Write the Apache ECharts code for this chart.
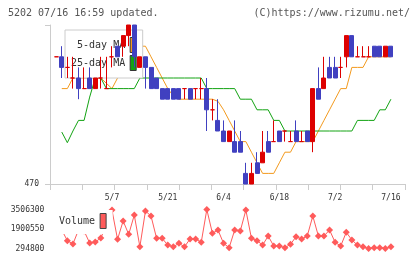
<!DOCTYPE html>
<html>
<head>
<meta charset="utf-8">
<script src="https://cdn.jsdelivr.net/npm/echarts@6/dist/echarts.min.js"></script>
<style>
  html, body { margin: 0; padding: 0; background: #fff; }
  #chart { width: 420px; height: 259px; }
</style>
</head>
<body>
<div id="chart"></div>
<script>
var dates = [
  '4/19', '4/20', '4/21', '4/22', '4/23', '4/26', '4/27', '4/28', '4/30',
  '5/6', '5/7', '5/10', '5/11', '5/12', '5/13', '5/14', '5/17', '5/18', '5/19', '5/20', '5/21',
  '5/24', '5/25', '5/26', '5/27', '5/28', '5/31',
  '6/1', '6/2', '6/3', '6/4', '6/7', '6/8', '6/9', '6/10', '6/11', '6/14', '6/15', '6/16', '6/17', '6/18',
  '6/21', '6/22', '6/23', '6/24', '6/25', '6/28', '6/29', '6/30',
  '7/1', '7/2', '7/5', '7/6', '7/7', '7/8', '7/9', '7/12', '7/13', '7/14', '7/15', '7/16'
]
var open = [
  482, 482, 481, 480, 480, 479, 480, 479, 480, 479,
  482, 483, 483, 484, 485, 481, 482, 481, 480, 479,
  479, 479, 479, 479, 479, 479, 479, 479, 477, 476,
  475, 474, 474, 474, 471, 470, 472, 472, 474, 474,
  475, 475, 474, 475, 474, 475, 474, 479, 479, 481,
  481, 481, 482, 484, 482, 482, 482, 483, 483, 482, 483
]
var close = [
  482, 481, 481, 480, 479, 479, 479, 480, 480, 479,
  482, 482, 484, 485, 482, 482, 481, 479, 479, 478,
  478, 478, 478, 479, 478, 479, 479, 477, 477, 475,
  474, 475, 473, 473, 470, 471, 471, 473, 473, 474,
  474, 475, 474, 474, 474, 474, 479, 478, 480, 480,
  480, 481, 484, 482, 482, 482, 482, 482, 482, 483, 482
]
var low = [
  482, 480, 480, 479, 478, 479, 479, 479, 479, 479,
  481, 482, 482, 483, 481, 481, 479, 479, 479, 478,
  478, 478, 478, 478, 478, 478, 478, 475, 476, 475,
  474, 474, 473, 473, 470, 470, 471, 472, 473, 474,
  474, 474, 474, 474, 474, 474, 473, 478, 479, 480,
  480, 480, 481, 482, 482, 482, 482, 482, 482, 482, 482
]
var high = [
  482, 483, 482, 482, 481, 481, 481, 480, 482, 482,
  483, 483, 484, 485, 485, 482, 482, 481, 480, 479,
  479, 479, 479, 479, 479, 479, 480, 480, 478, 478,
  476, 475, 476, 475, 472, 472, 473, 475, 475, 476,
  475, 475, 475, 476, 475, 475, 479, 481, 482, 482,
  482, 482, 484, 484, 483, 483, 483, 483, 483, 483, 483
]
var ma5 = [
  '-', 479, 479, 480, 480, 480, 480, 480, 480, 479.5,
  479, 480, 481.6, 482.6, 482.8, 483, 483, 482, 481, 480,
  479, 478.3, 478, 478, 478, 478, 478, 478, 478, 477.8,
  477, 476, 475, 474, 474, 473, 472, 471, 471, 471,
  472, 473, 473, 474, 474, 474, 474, 475, 476, 477,
  478, 479, 479, 481, 481, 481, 482, 482, 482, 482, 482
]
var ma25 = [
  '-', 474.9, 473.9, 475, 476, 476, 478.2, 480, 480, 479,
  479, 479, 479, 479, 479, 480, 480, 480, 480, 480,
  480, 480, 480, 480, 480, 480, 480, 479, 479, 479,
  479, 479, 479, 478, 478, 478, 477, 477, 477, 476,
  476, 475, 475, 475, 475, 475, 475, 475, 475, 475,
  475, 475, 475, 475, 476, 476, 476, 476, 477, 477, 478
]
var volume = [
  1980000, 1820000, 940000, 665000, 1820000, 1740000, 750000, 830000, 1160000, 2230000,
  3460000, 1050000, 2560000, 1460000, 3050000, 440000, 3380000, 2970000, 1130000, 1130000,
  580000, 440000, 723000, 440000, 1080000, 1080000, 805000, 3506300, 1550000, 1820000,
  723000, 360000, 1820000, 1740000, 3460000, 1130000, 940000, 580000, 1320000, 500000,
  500000, 360000, 640000, 1270000, 1080000, 1320000, 2970000, 1320000, 1320000, 1820000,
  805000, 500000, 1630000, 995000, 580000, 440000, 294800, 360000, 360000, 300000, 440000
]

var FONT = 'DejaVu Sans Mono'
var UP = '#dd0000'
var DOWN = '#4040c0'
var MA5_COLOR = '#f39a1e'
var MA25_COLOR = '#12a312'
var VOL_COLOR = '#ff5b5b'
var AXIS = '#cccccc'

var candles = dates.map(function (d, i) {
  var item = { value: [open[i], close[i], low[i], high[i]] }
  // doji bars are drawn red
  if (open[i] === close[i]) {
    item.itemStyle = { color: UP, color0: UP, borderColor: UP, borderColor0: UP }
  }
  return item
})

var volMin = Math.min.apply(null, volume)
var volMax = Math.max.apply(null, volume)

var chart = echarts.init(document.getElementById('chart'))
var option = {
  animation: false,
  backgroundColor: '#fff',
  title: [
    {
      text: '5202 07/16 16:59 updated.',
      left: 3, top: 3,
      textStyle: { fontFamily: FONT, fontSize: 10, fontWeight: 'normal', color: '#555' }
    },
    {
      text: '(C)https://www.rizumu.net/',
      right: 5, top: 3,
      textStyle: { fontFamily: FONT, fontSize: 10, fontWeight: 'normal', color: '#555' }
    }
  ],
  legend: [
    {
      data: ['5-day MA', '25-day MA'],
      orient: 'vertical',
      left: 65, top: 30,
      align: 'right',
      icon: 'rect',
      itemWidth: 6, itemHeight: 15, itemGap: 2,
      padding: [7, 6, 7, 6],
      borderColor: '#ccc', borderWidth: 1,
      backgroundColor: '#fff',
      selectedMode: false,
      z: 3,
      formatter: function (name) { return name.length < 9 ? ' ' + name : name },
      itemStyle: { borderColor: '#333', borderWidth: 1 },
      textStyle: { fontFamily: FONT, fontSize: 10, color: '#333' }
    },
    {
      data: ['Volume'],
      left: 51, top: 210,
      align: 'right',
      icon: 'rect',
      itemWidth: 6, itemHeight: 15,
      padding: [3, 6, 5, 8],
      backgroundColor: '#fff',
      selectedMode: false,
      z: 3,
      itemStyle: { borderColor: '#444', borderWidth: 1 },
      textStyle: { fontFamily: FONT, fontSize: 10, color: '#333' }
    }
  ],
  grid: [
    { left: 53.4, width: 340.3, top: 25, height: 159 },
    { left: 50, right: 15, top: 25, height: 159 },
    { left: 53.4, width: 340.3, top: 209.5, height: 39 }
  ],
  xAxis: [
    {
      type: 'category', gridIndex: 0, data: dates, boundaryGap: true,
      axisLine: { show: false }, axisTick: { show: false },
      axisLabel: {
        interval: function (idx) { return idx > 0 && idx % 10 === 0 },
        margin: 10, fontFamily: FONT, fontSize: 8, color: '#333'
      }
    },
    {
      type: 'value', gridIndex: 1, min: 0, max: 11, interval: 1,
      axisLine: { show: true, lineStyle: { color: AXIS } },
      axisTick: { show: true, length: 6, lineStyle: { color: AXIS } },
      axisLabel: { show: false },
      splitLine: { show: false }
    },
    {
      type: 'category', gridIndex: 2, data: dates, boundaryGap: true, show: false
    }
  ],
  yAxis: [
    { type: 'value', gridIndex: 0, min: 470, max: 485, show: false },
    {
      type: 'value', gridIndex: 1, min: 470, max: 485, interval: 15,
      axisLine: { show: true, lineStyle: { color: AXIS } },
      axisTick: { show: true, length: 5, lineStyle: { color: AXIS } },
      axisLabel: {
        margin: 11, fontFamily: FONT, fontSize: 8, color: '#333',
        formatter: function (v) { return v === 470 ? '470' : '' }
      },
      splitLine: { show: false }
    },
    {
      type: 'value', gridIndex: 2, min: volMin, max: volMax, interval: (volMax - volMin) / 2,
      axisLine: { show: false }, axisTick: { show: false },
      axisLabel: {
        margin: 9, fontFamily: FONT, fontSize: 8, color: '#333',
        formatter: function (v) { return String(Math.round(v)) }
      },
      splitLine: { show: false }
    }
  ],
  series: [
    {
      type: 'candlestick', name: 'price',
      xAxisIndex: 0, yAxisIndex: 0,
      data: candles,
      barWidth: 4.5,
      z: 5,
      itemStyle: {
        color: UP, color0: DOWN,
        borderColor: UP, borderColor0: DOWN,
        borderWidth: 1
      }
    },
    {
      type: 'line', name: '5-day MA',
      xAxisIndex: 0, yAxisIndex: 0,
      data: ma5, showSymbol: false, z: 2,
      itemStyle: { color: MA5_COLOR },
      lineStyle: { color: MA5_COLOR, width: 1 }
    },
    {
      type: 'line', name: '25-day MA',
      xAxisIndex: 0, yAxisIndex: 0,
      data: ma25, showSymbol: false, z: 2,
      itemStyle: { color: MA25_COLOR },
      lineStyle: { color: MA25_COLOR, width: 1 }
    },
    {
      type: 'line', name: 'Volume',
      xAxisIndex: 2, yAxisIndex: 2,
      data: volume, symbol: 'diamond', symbolSize: 7, showAllSymbol: true, z: 2,
      itemStyle: { color: VOL_COLOR },
      lineStyle: { color: VOL_COLOR, width: 1 }
    }
  ]
}
chart.setOption(option)
</script>
</body>
</html>
